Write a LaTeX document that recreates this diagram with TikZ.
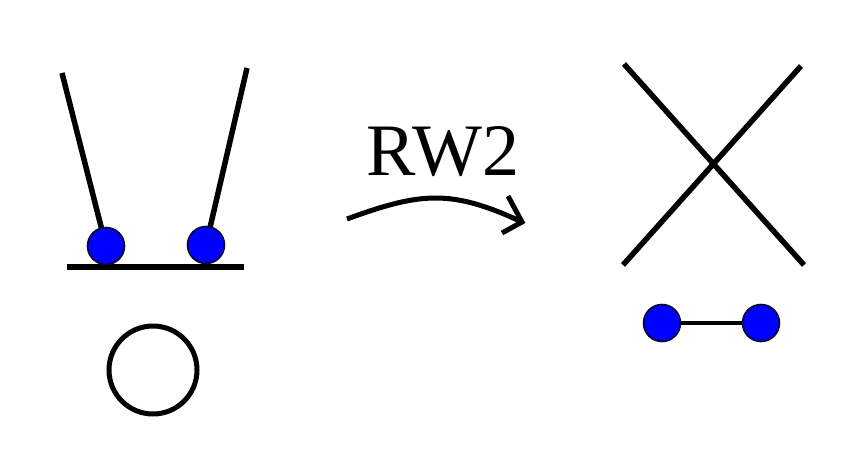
\documentclass[tikz,border=0pt]{standalone}
\usepackage{fontspec}
\setmainfont{Liberation Serif}
\usepackage{xcolor}
\usetikzlibrary{arrows.meta, positioning}
\definecolor{BeadBlue}{RGB}{0,0,255}
\definecolor{BeadEdge}{RGB}{10,10,40}
\tikzset{
  >=latex,  % default tips
  % strands and beads
  strand/.style={line width=5.5pt,black},
  bead/.style={circle,draw=BeadEdge,line width=1.6pt,fill=BeadBlue,minimum size=37pt,inner sep=0pt},
  % the move arrow
  move arrow/.style={line width=5pt,line join=miter},
  move label/.style={font=\fontsize{74}{76}\selectfont,anchor=base,inner sep=0pt}
}
\begin{document}
\begin{tikzpicture}[x=1pt,y=-1pt]
    \useasboundingbox (0,0) rectangle (865,471);
    % before the move
    \coordinate (la) at (62,73);
    \coordinate (ra) at (247,68);
    \coordinate (fl) at (67,267);
    \coordinate (fr) at (244,267);
    \coordinate (lp) at (106,246);
    \coordinate (rp) at (206,245);
    \draw[strand] (la) -- (lp);
    \draw[strand] (ra) -- (rp);
    \draw[strand] (fl) -- (fr);
    \node[bead] (lb) at (lp) {};
    \node[bead] (rb) at (rp) {};
    \node[circle,draw,line width=5pt,minimum size=88pt,inner sep=0pt] (loop) at (153,370) {};
    % the move
    \coordinate (ms) at (347,219);
    \coordinate (me) at (522,222);
    \coordinate (hu) at (508,196);
    \coordinate (hd) at (502,233);
    \draw[move arrow] (ms) .. controls (421,192) and (451,189) .. (me);
    \draw[move arrow] (hu) -- (me) -- (hd);
    \node[move label] (rw) at (443,175) {RW2};
    % after the move
    \coordinate (xa) at (624,64);
    \coordinate (xb) at (804,265);
    \coordinate (xc) at (801,66);
    \coordinate (xd) at (623,265);
    \draw[strand] (xa) -- (xb);
    \draw[strand] (xc) -- (xd);
    \node[bead] (lc) at (662,323) {};
    \node[bead] (rc) at (761,323) {};
    \draw[line width=4pt] (lc) -- (rc);
  \end{tikzpicture}
\end{document}
